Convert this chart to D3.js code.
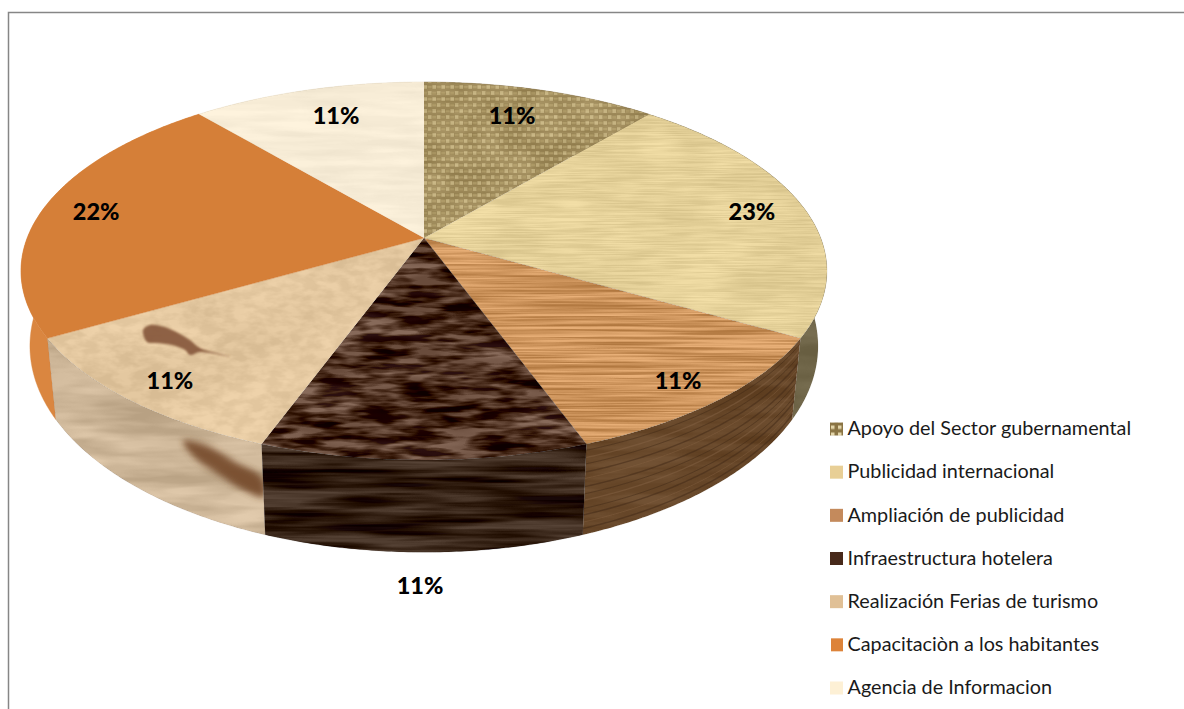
<!DOCTYPE html>
<html><head><meta charset="utf-8">
<script src="https://cdn.jsdelivr.net/npm/d3@7"></script>
<style>html,body{margin:0;padding:0;background:#fff;overflow:hidden}svg{display:block}text{font-family:Lato,"Open Sans",sans-serif}</style>
</head><body>
<script>
// ---- data
const categories = ["Apoyo del Sector gubernamental","Publicidad internacional","Ampliación de publicidad","Infraestructura hotelera","Realización Ferias de turismo","Capacitaciòn a los habitantes","Agencia de Informacion"];
const values = [11.1,22.2,11.1,11.1,11.1,22.2,11.1];
const labels = ["11%","23%","11%","11%","11%","22%","11%"];

// ---- styling, per slice
const topColors  = ["#b09a68","#e5d199","#cd945c","#4a2d1d","#e3c79f","#d57f38","#f7ecd6"];
const wallColors = ["#8d7a50","#6f6548","#674729","#2f1c0f","#ceb799","#da8640","#e9dcc0"];
const swatchColors = ["#a89060","#e8cf96","#c48a5c","#47291a","#e0c096","#dd8339","#fdf0d5"];
// turbulence: [freqX, freqY, amplitude] two layers
const topGrain = [
 [[.03,.03,.12],[.01,.5,.08]],
 [[.012,.03,.05],[.015,.7,.06]],
 [[.006,.4,.17],[.01,.9,.05]],
 [[.025,.14,.36],[.01,.05,.12]],
 [[.06,.12,.05],[.01,.02,.04]],
 null,
 [[.012,.12,.03],[.01,.03,.025]]
];
const wallGrain = [null,[[.01,.05,.05],[.01,.02,.03]],[[.01,.1,.05],[.01,.02,.03]],[[.006,.09,.24],[.01,.3,.06]],[[.01,.07,.10],[.008,.02,.07]],null,null];
const grainLevels = [.07,.15,.22,.31,.38,.47,.55,.62,.71,.78,.86,.93];
const labelRadius = [.80,.861,.888,1,.888,.861,.80];
const labelShift  = [-1.7,0,.6,0,-.6,0,1.7];
// decorative knot in the wood of the "Ferias" slice
const knotTop  = [[143,330],[150,325],[165,327],[180,334],[190,340],[200,348],[230,356.5],[200,352],[190,355],[185,350],[172,345],[155,343],[147,342]];
const knotWall = [[183,441],[205,445],[235,462],[262,478],[264,497],[240,488],[215,472],[195,458]];

const W=1184,H=709;
const svg=d3.select("body").append("svg").attr("width",W).attr("height",H);
const defs=svg.append("defs");

// perspective projection of the pie disc
const K=.1746, cx=424;
const topPlane={cy:238,A:183.2,B:396.8}, botPlane={cy:310,A:200,B:388};
function proj(deg,r,pl){const t=deg*Math.PI/180,d=1+K*r*Math.cos(t);
  return [cx+pl.B*r*Math.sin(t)/d, pl.cy-pl.A*r*Math.cos(t)/d];}
const line=d3.line();
const rad=a=>a*180/Math.PI;
const arcs=d3.pie().sort(null).startAngle(0).endAngle(2*Math.PI)(values);
const samples=(a,b)=>d3.range(a,b,.5).concat([b]);

function grainFilter(id,layers){
  const f=defs.append("filter").attr("id",id).attr("filterUnits","userSpaceOnUse")
    .attr("x",0).attr("y",0).attr("width",W).attr("height",H).attr("color-interpolation-filters","sRGB");
  let prev="SourceGraphic";
  layers.forEach((l,i)=>{
    f.append("feTurbulence").attr("type","fractalNoise").attr("baseFrequency",l[0]+" "+l[1])
      .attr("numOctaves",3).attr("seed",7+i*5+id.length*3).attr("result","n"+i);
    f.append("feColorMatrix").attr("in","n"+i).attr("type","matrix")
      .attr("values","3 0 0 0 -1  3 0 0 0 -1  3 0 0 0 -1  0 0 0 0 1").attr("result","c"+i);
    f.append("feComposite").attr("in",prev).attr("in2","c"+i).attr("operator","arithmetic")
      .attr("k1",0).attr("k2",1).attr("k3",l[2]).attr("k4",-l[2]/2).attr("result","m"+i);
    prev="m"+i;
  });
  f.append("feComposite").attr("in",prev).attr("in2","SourceAlpha").attr("operator","in");
}
topGrain.forEach((g,i)=>{if(g)grainFilter("top"+i,g);});
wallGrain.forEach((g,i)=>{if(g)grainFilter("wall"+i,g);});

// woven texture for the first slice
const weave=defs.append("pattern").attr("id","weave").attr("patternUnits","userSpaceOnUse").attr("width",9).attr("height",12);
weave.append("rect").attr("width",9).attr("height",12).attr("fill","#8d7a4c");
[[0,0],[4.5,6]].forEach(p=>{
  weave.append("rect").attr("x",p[0]+.4).attr("y",p[1]+1.2).attr("width",3.6).attr("height",3.6).attr("fill","#d4c594");
  weave.append("rect").attr("x",(p[0]+4.5)%9+.2).attr("y",p[1]+1.8).attr("width",4).attr("height",2.6).attr("fill","#ad9b68");
});
const chk=defs.append("pattern").attr("id","chk").attr("patternUnits","userSpaceOnUse").attr("width",7).attr("height",7).attr("x",830).attr("y",423);
chk.append("rect").attr("width",7).attr("height",7).attr("fill","#8a7444");
chk.append("rect").attr("x",1).attr("y",1).attr("width",3.5).attr("height",3.5).attr("fill","#e2d4a8");

defs.append("filter").attr("id","blur1").append("feGaussianBlur").attr("stdDeviation",.8);
defs.append("filter").attr("id","blur3").append("feGaussianBlur").attr("stdDeviation",3.2);

// chart frame
svg.append("path").attr("d",line([[8.5,H],[8.5,12.5],[W,12.5]])).attr("fill","none").attr("stroke","#868686").attr("stroke-width",1.5);

// side walls
const wallG=svg.append("g");
const order=[0,6,1,5,2,4,3];
order.forEach(i=>{
  const a=arcs[i],s=samples(rad(a.startAngle),rad(a.endAngle));
  const d=line(s.map(t=>proj(t,1,topPlane)).concat(s.slice().reverse().map(t=>proj(t,1,botPlane))))+"Z";
  const id="wallclip"+i;
  defs.append("clipPath").attr("id",id).append("path").attr("d",d);
  wallG.append("path").attr("d",d).attr("fill",wallColors[i])
    .attr("stroke",wallColors[i]).attr("stroke-width",.4)
    .attr("filter",wallGrain[i]?`url(#wall${i})`:null);
  if(i===2){ // curved wood grain on the wall
    const g=wallG.append("g").attr("clip-path",`url(#${id})`);
    grainLevels.forEach((lv,j)=>{
      const pts=s.map(t=>{const p=proj(t,1,topPlane),q=proj(t,1,botPlane);
        return [p[0]+(q[0]-p[0])*lv,p[1]+(q[1]-p[1])*lv];});
      g.append("path").attr("d",line(pts)).attr("fill","none")
        .attr("stroke",j%3===1?"#846243":"#3f2816").attr("stroke-width",j%2?1.4:.9).attr("opacity",.5);
    });
  }
  if(i===4){ // the knot carried down the wall
    wallG.append("g").attr("clip-path",`url(#${id})`).append("path")
      .attr("filter","url(#blur3)").attr("fill","#74492c").attr("opacity",.9)
      .attr("d",d3.line().curve(d3.curveCatmullRomClosed)(knotWall));
  }
});

// top face
const topG=svg.append("g");
arcs.forEach((a,i)=>{
  const s=samples(rad(a.startAngle),rad(a.endAngle));
  const d=line([[cx,topPlane.cy]].concat(s.map(t=>proj(t,1,topPlane))))+"Z";
  topG.append("path").attr("d",d).attr("fill",topColors[i]).attr("stroke",topColors[i]).attr("stroke-width",.3)
    .attr("filter",topGrain[i]?`url(#top${i})`:null);
  if(i===0) topG.append("path").attr("d",d).attr("fill","url(#weave)").attr("opacity",.55);
});
topG.append("path").attr("filter","url(#blur1)").attr("fill","#85573a").attr("opacity",.9)
  .attr("d",d3.line().curve(d3.curveCatmullRomClosed)(knotTop));

// data labels
const labelG=svg.append("g");
arcs.forEach((a,i)=>{
  const mid=rad((a.startAngle+a.endAngle)/2)+labelShift[i];
  const b=proj(mid,1,botPlane);
  const p=i===3?[b[0]-4,b[1]+33]:proj(mid,labelRadius[i],topPlane);
  labelG.append("text").attr("x",p[0]).attr("y",p[1]).attr("dy","0.36em").attr("text-anchor","middle")
    .attr("font-size",23.5).attr("font-weight",900).attr("fill","#000").text(labels[i]);
});

// legend
const ly=d3.scalePoint().domain(categories).range([428.5,687.5]);
const legend=svg.append("g").selectAll("g").data(categories).join("g").attr("transform",d=>`translate(0,${ly(d)})`);
legend.append("rect").attr("x",(d,i)=>i===5?831:830).attr("y",-6).attr("width",(d,i)=>i===5?12:13).attr("height",13)
  .attr("fill",(d,i)=>i===0?"url(#chk)":swatchColors[i]);
legend.append("text").attr("x",847.5).attr("dy","0.34em").attr("font-size",19.8).attr("fill","#1a1a1a").text(d=>d);
</script>
</body></html>
